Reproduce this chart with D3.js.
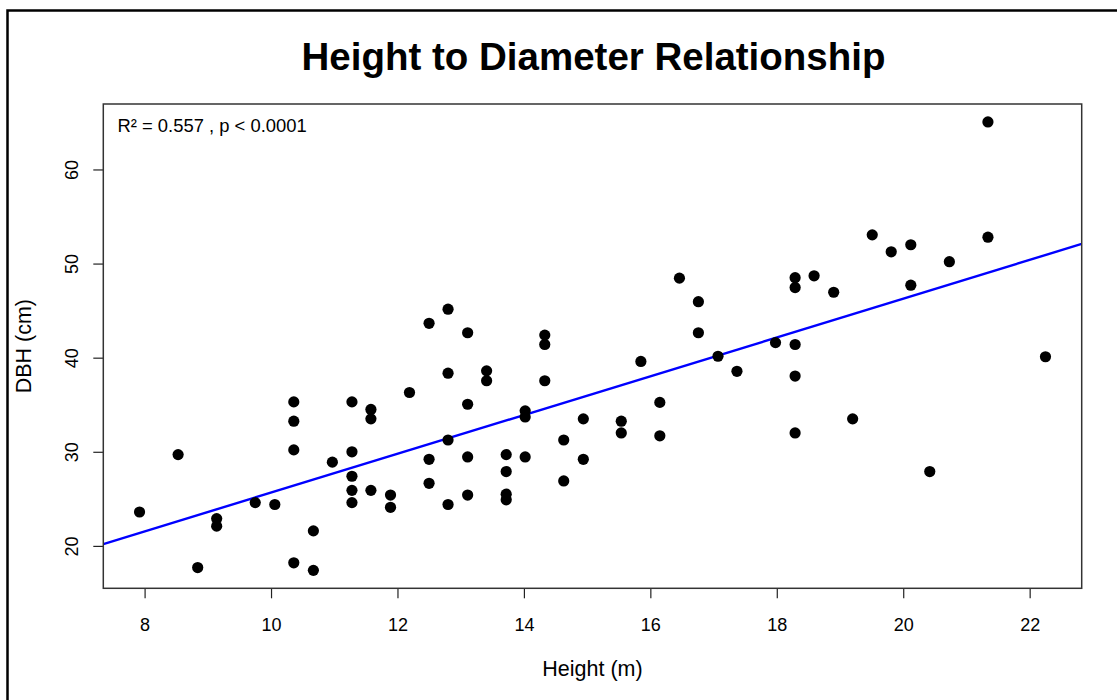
<!DOCTYPE html>
<html>
<head>
<meta charset="utf-8">
<script src="https://cdn.jsdelivr.net/npm/d3@7"></script>
<style>
  html, body { margin: 0; padding: 0; background: #fff; }
  svg { display: block; }
  text { font-family: "Liberation Sans", Arial, sans-serif; fill: #000; }
</style>
</head>
<body>
<svg id="chart" width="1117" height="700"></svg>
<script>
// ---- data ----
const heightM = [
  7.92, 8.53, 8.84, 9.14, 9.14, 9.75, 10.06, 10.36, 10.36, 10.36,
  10.36, 10.67, 10.67, 10.97, 11.28, 11.28, 11.28, 11.28, 11.28, 11.58,
  11.58, 11.58, 11.89, 11.89, 12.19, 12.50, 12.50, 12.50, 12.80, 12.80,
  12.80, 12.80, 13.11, 13.11, 13.11, 13.11, 13.41, 13.41, 13.72, 13.72,
  13.72, 13.72, 14.02, 14.02, 14.02, 14.33, 14.33, 14.33, 14.63, 14.63,
  14.94, 14.94, 15.54, 15.54, 15.85, 16.15, 16.15, 16.46, 16.76, 16.76,
  17.07, 17.37, 17.98, 18.29, 18.29, 18.29, 18.29, 18.29, 18.59, 18.90,
  19.20, 19.51, 19.81, 20.12, 20.12, 20.42, 20.73, 21.34, 21.34, 22.25
];
const dbhCm = [
  23.6, 29.7, 17.7, 22.9, 22.1, 24.6, 24.4, 35.3, 33.25, 30.2,
  18.2, 21.6, 17.4, 28.9, 35.3, 30.0, 27.4, 25.9, 24.6, 34.5,
  33.5, 25.9, 25.4, 24.1, 36.3, 29.2, 26.65, 43.65, 45.15, 38.35,
  31.25, 24.4, 42.65, 35.05, 29.45, 25.4, 38.6, 37.55, 29.7, 27.9,
  25.5, 24.9, 34.35, 33.7, 29.45, 42.4, 41.4, 37.55, 31.25, 26.9,
  33.5, 29.2, 33.25, 32.0, 39.6, 35.25, 31.7, 48.45, 45.95, 42.65,
  40.15, 38.55, 41.6, 48.5, 47.45, 41.4, 38.05, 32.0, 48.7, 46.95,
  33.5, 53.05, 51.25, 52.0, 47.7, 27.9, 50.2, 65.05, 52.8, 40.1
];
const fitIntercept = 5.05;
const fitSlope = 2.061;
const xTicks = [8, 10, 12, 14, 16, 18, 20, 22];
const yTicks = [20, 30, 40, 50, 60];
const titleText = "Height to Diameter Relationship";
const statText = "R² = 0.557 , p < 0.0001";
const xLabel = "Height (m)";
const yLabel = "DBH (cm)";

// ---- layout ----
const W = 1117, H = 700;
const plot = { left: 103.3, right: 1081.7, top: 104, bottom: 588.3 };

// R-style 4% axis extension
function rDomain(vals) {
  const [a, b] = d3.extent(vals);
  const pad = (b - a) * 0.04;
  return [a - pad, b + pad];
}

const x = d3.scaleLinear().domain(rDomain(heightM)).range([plot.left, plot.right]);
const y = d3.scaleLinear().domain(rDomain(dbhCm)).range([plot.bottom, plot.top]);

const svg = d3.select("#chart");
svg.append("rect").attr("width", W).attr("height", H).attr("fill", "#fff");

// outer frame (left + top edges visible)
svg.append("path")
  .attr("d", `M7.5,${H} V10.5 H${W}`)
  .attr("fill", "none").attr("stroke", "#000").attr("stroke-width", 2.5);

// title
svg.append("text")
  .attr("x", (plot.left + plot.right) / 2 + 1)
  .attr("y", 70)
  .attr("text-anchor", "middle")
  .style("font-size", "38.5px")
  .style("font-weight", "bold")
  .text(titleText);

// axes
const xAxis = d3.axisBottom(x).tickValues(xTicks).tickSize(10).tickPadding(0).tickFormat(d3.format("d"));
const gx = svg.append("g").attr("transform", `translate(0,${plot.bottom})`).call(xAxis);
gx.select(".domain").remove();
gx.selectAll(".tick line").attr("stroke", "#222").attr("stroke-width", 1.2);
gx.selectAll(".tick text")
  .attr("y", 0).attr("dy", null)
  .attr("transform", "translate(0,42.3)")
  .style("font-size", "18px")
  .style("font-family", "'Liberation Sans', Arial, sans-serif")
  .attr("fill", "#000");

const yAxis = d3.axisLeft(y).tickValues(yTicks).tickSize(10).tickFormat(d3.format("d"));
const gy = svg.append("g").attr("transform", `translate(${plot.left},0)`).call(yAxis);
gy.select(".domain").remove();
gy.selectAll(".tick line").attr("stroke", "#222").attr("stroke-width", 1.2);
gy.selectAll(".tick text")
  .attr("x", null).attr("dy", null).attr("y", null)
  .attr("text-anchor", "middle")
  .attr("transform", `translate(${77.5 - plot.left},0) rotate(-90)`)
  .style("font-size", "18px")
  .style("font-family", "'Liberation Sans', Arial, sans-serif")
  .attr("fill", "#000");

// clip for fit line
svg.append("clipPath").attr("id", "plotclip")
  .append("rect")
  .attr("x", plot.left).attr("y", plot.top)
  .attr("width", plot.right - plot.left).attr("height", plot.bottom - plot.top);

// regression line across plot
const [x0, x1] = x.domain();
svg.append("line")
  .attr("clip-path", "url(#plotclip)")
  .attr("x1", x(x0)).attr("y1", y(fitIntercept + fitSlope * x0))
  .attr("x2", x(x1)).attr("y2", y(fitIntercept + fitSlope * x1))
  .attr("stroke", "#0000ff").attr("stroke-width", 2.4);

// points
const pts = heightM.map((h, i) => ({ h, d: dbhCm[i] }));
svg.append("g").selectAll("circle").data(pts).join("circle")
  .attr("cx", p => x(p.h)).attr("cy", p => y(p.d))
  .attr("r", 5.6).attr("fill", "#000");

// plot box
svg.append("rect")
  .attr("x", plot.left).attr("y", plot.top)
  .attr("width", plot.right - plot.left).attr("height", plot.bottom - plot.top)
  .attr("fill", "none").attr("stroke", "#333").attr("stroke-width", 1.5);

// stat annotation
svg.append("text")
  .attr("x", 117.5).attr("y", 131.5)
  .style("font-size", "18.4px")
  .text(statText);

// axis labels
svg.append("text")
  .attr("x", (plot.left + plot.right) / 2)
  .attr("y", 676)
  .attr("text-anchor", "middle")
  .style("font-size", "21.5px")
  .text(xLabel);

svg.append("text")
  .attr("transform", `translate(31,${(plot.top + plot.bottom) / 2}) rotate(-90)`)
  .attr("text-anchor", "middle")
  .style("font-size", "21.5px")
  .text(yLabel);
</script>
</body>
</html>
